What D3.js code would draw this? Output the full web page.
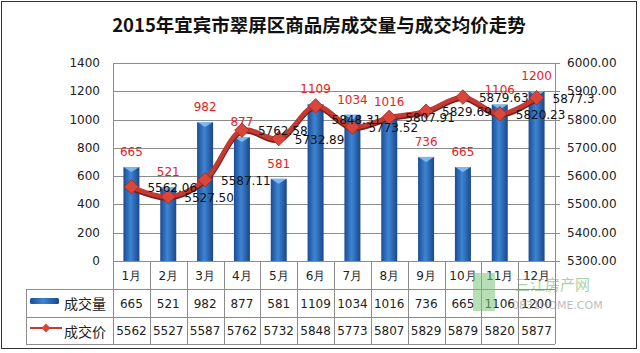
<!DOCTYPE html>
<html>
<head>
<meta charset="utf-8">
<script src="https://cdn.jsdelivr.net/npm/d3@7"></script>
<style>
  body { margin: 0; background: #fff; }
  svg text { font-family: "DejaVu Sans", Verdana, sans-serif; }
</style>
</head>
<body>
<div id="chart"></div>
<script>
// data
var months = ["1月", "2月", "3月", "4月", "5月", "6月", "7月", "8月", "9月", "10月", "11月", "12月"];
var volumes = [665, 521, 982, 877, 581, 1109, 1034, 1016, 736, 665, 1106, 1200];
var prices = [5562.06, 5527.50, 5587.11, 5762.58, 5732.89, 5848.31, 5773.52, 5807.91, 5829.69, 5879.63, 5820.23, 5877.30];
var priceLabels = ["5562.06", "5527.50", "5587.11", "5762.58", "5732.89", "5848.31", "5773.52", "5807.91", "5829.69", "5879.63", "5820.23", "5877.3"];
var volTicks = [0, 200, 400, 600, 800, 1000, 1200, 1400];
var priceTicks = [5300, 5400, 5500, 5600, 5700, 5800, 5900, 6000];

var width = 640, height = 353;
var plot = {left: 113, right: 555, top: 63, bottom: 261};
var rowH = [28, 28, 27];

var svg = d3.select("#chart").append("svg")
    .attr("width", width)
    .attr("height", height);

var defs = svg.append("defs");
var barGrad = defs.append("linearGradient").attr("id", "barGrad")
    .attr("x1", "0%").attr("x2", "100%").attr("y1", "0%").attr("y2", "0%");
barGrad.append("stop").attr("offset", "0%").attr("stop-color", "#1c4b93");
barGrad.append("stop").attr("offset", "45%").attr("stop-color", "#3d85d4");
barGrad.append("stop").attr("offset", "100%").attr("stop-color", "#1a4789");

// outer frame
svg.append("rect")
    .attr("x", 1.5).attr("y", 1.5)
    .attr("width", 635).attr("height", 347)
    .attr("fill", "#fff").attr("stroke", "#333").attr("stroke-width", 1);

// title
svg.append("text")
    .attr("x", 319).attr("y", 32)
    .attr("text-anchor", "middle")
    .style("font-family", "'Noto Sans CJK SC', sans-serif")
    .style("font-size", "18.5px")
    .style("font-weight", "bold")
    .attr("fill", "#111")
    .text("2015年宜宾市翠屏区商品房成交量与成交均价走势");

var x = d3.scaleBand()
    .domain(months)
    .range([plot.left, plot.right]);

var yVol = d3.scaleLinear()
    .domain([0, 1400])
    .range([plot.bottom, plot.top]);

var yPrice = d3.scaleLinear()
    .domain([5300, 6000])
    .range([plot.bottom, plot.top]);

// gridlines
svg.append("g")
  .selectAll("line")
  .data(volTicks)
  .enter()
  .append("line")
    .attr("x1", plot.left).attr("x2", plot.right + 5)
    .attr("y1", function(d) { return Math.round(yVol(d)) + 0.5; })
    .attr("y2", function(d) { return Math.round(yVol(d)) + 0.5; })
    .attr("stroke", "#8c8c8c");

// left axis labels
svg.append("g")
  .selectAll("text")
  .data(volTicks)
  .enter()
  .append("text")
    .attr("x", 100)
    .attr("y", function(d) { return yVol(d) + 4; })
    .attr("text-anchor", "end")
    .style("font-size", "12px")
    .attr("fill", "#222")
    .text(function(d) { return d; });

// right axis labels
svg.append("g")
  .selectAll("text")
  .data(priceTicks)
  .enter()
  .append("text")
    .attr("x", 567)
    .attr("y", function(d) { return yPrice(d) + 4; })
    .style("font-size", "12px")
    .attr("fill", "#222")
    .text(function(d) { return d3.format(".2f")(d); });

// plot sides
svg.append("line")
    .attr("x1", plot.left + 0.5).attr("x2", plot.left + 0.5)
    .attr("y1", plot.top).attr("y2", plot.bottom + d3.sum(rowH))
    .attr("stroke", "#8c8c8c");
svg.append("line")
    .attr("x1", plot.right + 0.5).attr("x2", plot.right + 0.5)
    .attr("y1", plot.top).attr("y2", plot.bottom + d3.sum(rowH))
    .attr("stroke", "#8c8c8c");

// bars
var barW = 16;
var bars = svg.append("g")
  .selectAll("g")
  .data(volumes)
  .enter()
  .append("g");

bars.append("rect")
    .attr("x", function(d, i) { return x(months[i]) + x.bandwidth() / 2 - barW / 2; })
    .attr("y", function(d) { return yVol(d); })
    .attr("width", barW)
    .attr("height", function(d) { return plot.bottom - yVol(d); })
    .attr("fill", "url(#barGrad)");

// light cap on top of each bar
bars.append("path")
    .attr("d", function(d, i) {
      var cx = x(months[i]) + x.bandwidth() / 2, t = yVol(d);
      return "M" + (cx - barW / 2) + "," + t + "L" + (cx + barW / 2) + "," + t + "L" + cx + "," + (t + 5) + "Z";
    })
    .attr("fill", "#8cc3f2")
    .attr("opacity", 0.85);

// volume labels
svg.append("g")
  .selectAll("text")
  .data(volumes)
  .enter()
  .append("text")
    .attr("x", function(d, i) { return x(months[i]) + x.bandwidth() / 2; })
    .attr("y", function(d) { return yVol(d) - 11; })
    .attr("text-anchor", "middle")
    .style("font-size", "12px")
    .attr("fill", "#e8201c")
    .text(function(d) { return d; });

// price line
var line = d3.line()
    .x(function(d, i) { return x(months[i]) + x.bandwidth() / 2; })
    .y(function(d) { return yPrice(d); })
    .curve(d3.curveCatmullRom.alpha(0.5));

svg.append("path")
    .attr("d", line(prices))
    .attr("transform", "translate(0,1.5)")
    .attr("fill", "none")
    .attr("stroke", "#7d1f1a")
    .attr("stroke-width", 5);
svg.append("path")
    .attr("d", line(prices))
    .attr("fill", "none")
    .attr("stroke", "#c23b33")
    .attr("stroke-width", 4.5);

var diamond = d3.symbol().type(d3.symbolSquare).size(105);
svg.append("g")
  .selectAll("path")
  .data(prices)
  .enter()
  .append("path")
    .attr("d", diamond)
    .attr("transform", function(d, i) {
      return "translate(" + (x(months[i]) + x.bandwidth() / 2) + "," + yPrice(d) + ") rotate(45)";
    })
    .attr("fill", "#d8463c")
    .attr("stroke", "#a0281f")
    .attr("stroke-width", 0.8);

// price labels (6月 label sits lower in the original)
svg.append("g")
  .selectAll("text")
  .data(prices)
  .enter()
  .append("text")
    .attr("x", function(d, i) { return x(months[i]) + x.bandwidth() / 2 + 16; })
    .attr("y", function(d, i) { return yPrice(d) + 5 + (i === 5 ? 13 : 0); })
    .style("font-size", "12px")
    .attr("fill", "#111")
    .text(function(d, i) { return priceLabels[i]; });

// data table
var rowTop = [plot.bottom, plot.bottom + rowH[0], plot.bottom + rowH[0] + rowH[1]];
var tableBottom = plot.bottom + d3.sum(rowH);
var legendLeft = 26;
var grid = svg.append("g").attr("stroke", "#8c8c8c");

grid.append("line")
    .attr("x1", plot.left).attr("x2", plot.right)
    .attr("y1", plot.bottom + 0.5).attr("y2", plot.bottom + 0.5);
[rowTop[1], rowTop[2], tableBottom].forEach(function(yy) {
  grid.append("line")
      .attr("x1", legendLeft).attr("x2", plot.right)
      .attr("y1", yy + 0.5).attr("y2", yy + 0.5);
});
grid.append("line")
    .attr("x1", legendLeft + 0.5).attr("x2", legendLeft + 0.5)
    .attr("y1", rowTop[1]).attr("y2", tableBottom);
grid.selectAll("line.col")
  .data(months.slice(1))
  .enter()
  .append("line")
    .attr("class", "col")
    .attr("x1", function(d) { return Math.round(x(d)) + 0.5; })
    .attr("x2", function(d) { return Math.round(x(d)) + 0.5; })
    .attr("y1", plot.bottom).attr("y2", tableBottom);

function cellRow(values, top, h, fmt) {
  svg.append("g")
    .selectAll("text")
    .data(values)
    .enter()
    .append("text")
      .attr("x", function(d, i) { return x(months[i]) + x.bandwidth() / 2; })
      .attr("y", top + h / 2 + 4.5)
      .attr("text-anchor", "middle")
      .style("font-size", "12px")
      .attr("fill", "#222")
      .text(fmt);
}
cellRow(months, rowTop[0], rowH[0], function(d) { return d; });
cellRow(volumes, rowTop[1], rowH[1], function(d) { return d; });
cellRow(prices, rowTop[2], rowH[2], function(d) { return Math.floor(d); });

// legend keys in the table
svg.append("rect")
    .attr("x", 30).attr("y", 298)
    .attr("width", 29).attr("height", 6)
    .attr("rx", 1.5)
    .attr("fill", "url(#barGrad)");
svg.append("line")
    .attr("x1", 30).attr("x2", 62)
    .attr("y1", 328).attr("y2", 328)
    .attr("stroke", "#c23b33").attr("stroke-width", 2);
svg.append("path")
    .attr("d", d3.symbol().type(d3.symbolSquare).size(40))
    .attr("transform", "translate(46,328) rotate(45)")
    .attr("fill", "#d8463c");
svg.append("text")
    .attr("x", 64).attr("y", 309)
    .style("font-family", "'Noto Sans CJK SC', sans-serif")
    .style("font-size", "14px")
    .attr("fill", "#222")
    .text("成交量");
svg.append("text")
    .attr("x", 64).attr("y", 337)
    .style("font-family", "'Noto Sans CJK SC', sans-serif")
    .style("font-size", "14px")
    .attr("fill", "#222")
    .text("成交价");

// faint site watermark
var wm = svg.append("g").attr("opacity", 0.55);
wm.append("rect")
    .attr("x", 473).attr("y", 273).attr("width", 22).attr("height", 38)
    .attr("fill", "#7cc47a");
wm.append("text")
    .attr("x", 515).attr("y", 290)
    .style("font-family", "'Noto Sans CJK SC', sans-serif")
    .style("font-size", "15px")
    .attr("fill", "#5cb45a")
    .text("三江房产网");
wm.append("text")
    .attr("x", 512).attr("y", 309)
    .style("font-size", "11px")
    .attr("fill", "#888")
    .text("0831HOME.COM");
</script>
</body>
</html>
